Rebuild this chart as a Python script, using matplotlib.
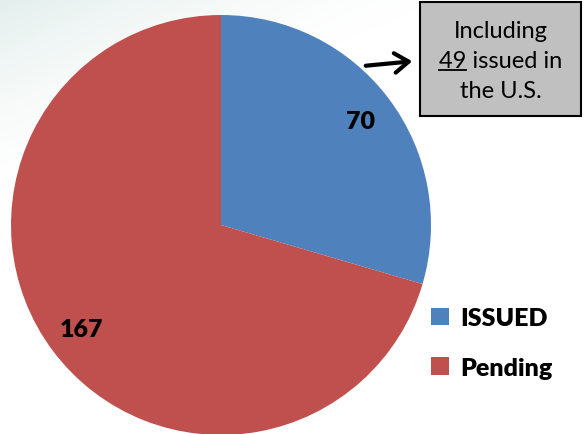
import numpy as np
import matplotlib
matplotlib.use('Agg')
import matplotlib.pyplot as plt
from matplotlib import font_manager as fm
from matplotlib.patches import Patch, FancyArrowPatch

# data
categories = ['ISSUED', 'Pending']
counts = [70, 167]
colors = ['#4F81BD', '#C0504D']
note_lines = ['Including', '49 issued in', 'the U.S.']
us_issued = '49'

heavy18 = fm.FontProperties(family=['Lato', 'DejaVu Sans'], weight=800, size=18)
reg17 = fm.FontProperties(family=['Lato', 'DejaVu Sans'], weight='normal', size=17)

W, H = 588, 435
fig = plt.figure(figsize=(W / 100, H / 100), dpi=100)

# faint background wash in the top-left corner
bg = fig.add_axes([0, 0, 1, 1], zorder=-10)
yy, xx = np.mgrid[0:1:200j, 0:1:300j]
fade = np.clip(1 - (xx * 1.3 + yy * 2.2), 0, 1) ** 1.5
img = np.ones((200, 300, 4))
img[..., 0] = 0.88
img[..., 1] = 0.93
img[..., 2] = 0.92
img[..., 3] = fade * 0.9
bg.imshow(img, extent=[0, 1, 0, 1], aspect='auto')
bg.axis('off')

# pie: centre (221, 226) px, radius 210 px
cx, cy, r = 221, 226, 210
ax = fig.add_axes([(cx - r) / W, (H - cy - r) / H, 2 * r / W, 2 * r / H])
wedges, _, autotexts = ax.pie(
    counts, colors=colors, startangle=90, counterclock=False,
    autopct=lambda p: f'{round(p * sum(counts) / 100)}',
    pctdistance=0.83, radius=1.0)
for t in autotexts:
    t.set_fontproperties(heavy18)
    t.set_color('black')
ax.set_xlim(-1, 1)
ax.set_ylim(-1, 1)
ax.set_aspect('equal')

# note box
bx0, bx1, by0, by1 = 420, 581, 3, 117
fig.patches.append(plt.Rectangle((bx0 / W, 1 - by1 / H), (bx1 - bx0) / W, (by1 - by0) / H,
                                 transform=fig.transFigure, facecolor='#C0C0C0',
                                 edgecolor='black', linewidth=1.5, zorder=5))
tx = (bx0 + bx1) / 2 / W
line_y = [32, 62, 92]
texts = []
for line, y in zip(note_lines, line_y):
    t = fig.text(tx, 1 - y / H, line, ha='center', va='center',
                 fontproperties=reg17, zorder=6)
    texts.append(t)

# underline the 49
fig.canvas.draw()
renderer = fig.canvas.get_renderer()
full = texts[1].get_window_extent(renderer)
tmp = fig.text(0, 0, us_issued, fontproperties=reg17)
w49 = tmp.get_window_extent(renderer).width
tmp.remove()
uy = full.y0 + 2
fig.add_artist(plt.Line2D([full.x0 / W, (full.x0 + w49) / W], [uy / H, uy / H],
                          transform=fig.transFigure, color='black', linewidth=1.3, zorder=7))

# arrow into the box
fig.add_artist(FancyArrowPatch(
    (363 / W, 1 - 67 / H), (415 / W, 1 - 62 / H), transform=fig.transFigure,
    arrowstyle='->,head_length=5,head_width=3.5', color='black', linewidth=3,
    mutation_scale=2, zorder=6))

# legend
handles = [Patch(facecolor=c, edgecolor='none') for c in colors]
fig.legend(handles, categories, loc='upper left', bbox_to_anchor=(431 / W, 1 - 308 / H),
           frameon=False, prop=heavy18,
           handlelength=0.7, handleheight=0.7, handletextpad=0.45,
           labelspacing=1.1, borderpad=0, borderaxespad=0)

fig.savefig('out.png', dpi=100)
